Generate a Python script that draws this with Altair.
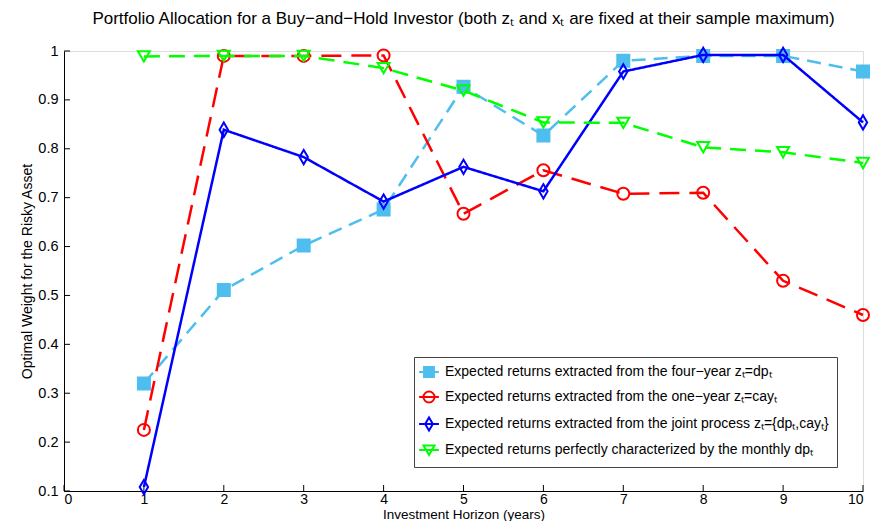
import altair as alt
import pandas as pd

horizon = [1, 2, 3, 4, 5, 6, 7, 8, 9, 10]
four_year = [0.320, 0.511, 0.602, 0.676, 0.927, 0.827, 0.980, 0.990, 0.990, 0.958]
one_year = [0.225, 0.990, 0.990, 0.991, 0.667, 0.756, 0.708, 0.710, 0.530, 0.460]
joint = [0.108, 0.839, 0.783, 0.692, 0.763, 0.713, 0.958, 0.992, 0.992, 0.854]
monthly = [0.989, 0.990, 0.990, 0.965, 0.919, 0.854, 0.853, 0.803, 0.793, 0.771]

series_names = [
    "Expected returns extracted from the four\u2212year z\u209c=dp\u209c",
    "Expected returns extracted from the one\u2212year z\u209c=cay\u209c",
    "Expected returns extracted from the joint process z\u209c={dp\u209c,cay\u209c}",
    "Expected returns perfectly characterized by the monthly dp\u209c",
]
series_values = [four_year, one_year, joint, monthly]
colors = ["#4DBEEE", "#FF0000", "#0000FF", "#00FF00"]
fills = ["#4DBEEE", "transparent", "transparent", "transparent"]
dashes = [[14, 8], [20, 10], [1, 0], [16, 9]]
diamond = "M-0.7,0L0,-1.2L0.7,0L0,1.2Z"
shapes = ["square", "circle", diamond, "triangle-down"]
legend_shapes = [
    "M-1.8,0H1.8M-0.9,-0.9H0.9V0.9H-0.9Z",
    "M-1.8,0H1.8M1,0A1,1,0,1,1,-1,0A1,1,0,1,1,1,0Z",
    "M-1.8,0H1.8M-0.7,0L0,-1.2L0.7,0L0,1.2Z",
    "M-1.8,0H1.8M-1,-0.8L1,-0.8L0,0.9Z",
]
x_ticks = list(range(0, 11))
y_ticks = [0.1, 0.2, 0.3, 0.4, 0.5, 0.6, 0.7, 0.8, 0.9, 1.0]

rows = []
for name, vals in zip(series_names, series_values):
    for h, v in zip(horizon, vals):
        rows.append({"series": name, "horizon": h, "weight": v})
df = pd.DataFrame(rows)

W, H = 799, 440
FONT = "Liberation Sans"

xscale = alt.Scale(domain=[0, 10], nice=False)
yscale = alt.Scale(domain=[0.1, 1.0], nice=False, zero=False)

legend = alt.Legend(
    title=None,
    orient="none",
    legendX=350,
    legendY=306,
    strokeColor="#444444",
    fillColor="white",
    padding=8,
    rowPadding=6,
    labelFont=FONT,
    labelFontSize=14,
    labelColor="black",
    labelOffset=9,
    symbolSize=121,
    symbolStrokeWidth=2,
    labelLimit=600,
)

xaxis = alt.Axis(
    values=x_ticks, format="d", tickSize=0, labelPadding=1,
    labelFont=FONT, labelFontSize=14, labelColor="black",
    title="Investment Horizon (years)", titleFont=FONT, titleFontSize=13.5,
    titleFontWeight="normal", titleColor="black", titlePadding=1,
    domainColor="black", grid=False,
)
yaxis = alt.Axis(
    values=y_ticks, format=".1~f", tickSize=0, labelPadding=6,
    labelFont=FONT, labelFontSize=14.5, labelColor="black",
    title="Optimal Weight for the Risky Asset", titleFont=FONT, titleFontSize=14,
    titleFontWeight="normal", titleColor="black", titlePadding=3,
    domainColor="black", grid=False,
)

base = alt.Chart(df)
layers = []
for i, name in enumerate(series_names):
    sub = base.transform_filter(alt.datum.series == name)
    line = sub.mark_line(
        color=colors[i], strokeWidth=2.5, strokeDash=dashes[i]
    ).encode(
        x=alt.X("horizon:Q", scale=xscale, axis=xaxis),
        y=alt.Y("weight:Q", scale=yscale, axis=yaxis),
    )
    pts = sub.mark_point(
        size=144, strokeWidth=2, opacity=1, shape=shapes[i],
        stroke=colors[i], fill=fills[i], filled=(i == 0),
        color=colors[i],
    ).encode(
        x=alt.X("horizon:Q", scale=xscale),
        y=alt.Y("weight:Q", scale=yscale),
    )
    layers += [line, pts]

# legend-only layer: no data rows pass the filter, the legend comes from the scale domains
legend_layer = base.transform_filter(alt.datum.horizon > 100).mark_point(
    strokeWidth=2, opacity=1
).encode(
    x=alt.X("horizon:Q", scale=xscale),
    y=alt.Y("weight:Q", scale=yscale),
    shape=alt.Shape("series:N", scale=alt.Scale(domain=series_names, range=legend_shapes), legend=legend),
    stroke=alt.Stroke("series:N", scale=alt.Scale(domain=series_names, range=colors), legend=legend),
    fill=alt.Fill("series:N", scale=alt.Scale(domain=series_names, range=fills), legend=legend),
)

xt = pd.DataFrame({"t": x_ticks})
yt = pd.DataFrame({"t": y_ticks})
xtick_rules = alt.Chart(xt).mark_rule(color="black", strokeWidth=1).encode(
    x=alt.X("t:Q", scale=xscale), y=alt.value(H), y2=alt.value(H - 6)
)
ytick_rules = alt.Chart(yt).mark_rule(color="black", strokeWidth=1).encode(
    y=alt.Y("t:Q", scale=yscale), x=alt.value(0), x2=alt.value(6)
)

chart = alt.layer(xtick_rules, ytick_rules, *layers, legend_layer).properties(
    width=W,
    height=H,
    autosize=alt.AutoSizeParams(type="none"),
    padding={"left": 56, "top": 43, "right": 7, "bottom": 30},
    title=alt.TitleParams(
        "Portfolio Allocation for a Buy\u2212and\u2212Hold Investor (both z\u209c  and x\u209c  are fixed at their sample maximum)",
        font=FONT, fontSize=17, fontWeight="normal", color="black",
        anchor="middle", offset=15,
    ),
).configure_view(stroke=None).configure(background="white")

chart.save("out.html", embed_options={"renderer": "svg", "actions": False})
